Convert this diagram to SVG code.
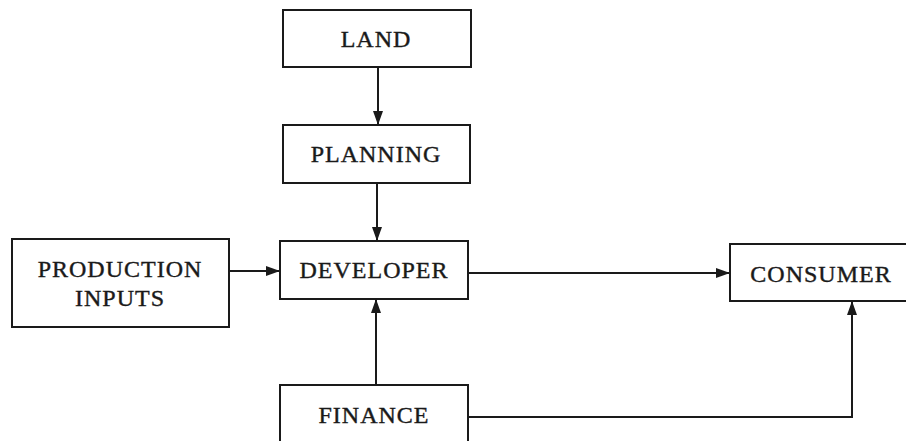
<svg xmlns="http://www.w3.org/2000/svg" width="906" height="441" viewBox="0 0 906 441">
  <style>
    .box { fill: #fff; stroke: #1a1a1a; stroke-width: 2; }
    .lbl { font-family: "Liberation Serif", "Times New Roman", serif; font-size: 24px; fill: #1a1a1a; stroke: #1a1a1a; stroke-width: 0.4; text-anchor: middle; letter-spacing: 1px; }
    .wire { fill: none; stroke: #1a1a1a; stroke-width: 2; }
  </style>
  <defs>
    <marker id="arrow" viewBox="0 0 14 10" refX="14" refY="5" markerWidth="14" markerHeight="10" markerUnits="userSpaceOnUse" orient="auto">
      <path d="M0,0 L14,5 L0,10 z" fill="#1a1a1a"/>
    </marker>
  </defs>
  <rect width="906" height="441" fill="#fff"/>

  <g id="land">
    <rect class="box" x="283" y="10" width="188" height="57"/>
    <text class="lbl" x="376" y="47">LAND</text>
  </g>
  <g id="planning">
    <rect class="box" x="283" y="125" width="187" height="58"/>
    <text class="lbl" x="376" y="162">PLANNING</text>
  </g>
  <g id="developer">
    <rect class="box" x="280" y="241" width="188" height="58"/>
    <text class="lbl" x="374" y="278">DEVELOPER</text>
  </g>
  <g id="production-inputs">
    <rect class="box" x="12" y="239" width="217" height="88"/>
    <text class="lbl" x="120" y="277">PRODUCTION</text>
    <text class="lbl" x="120" y="306">INPUTS</text>
  </g>
  <g id="finance">
    <rect class="box" x="280" y="385" width="188" height="60"/>
    <text class="lbl" x="374" y="423">FINANCE</text>
  </g>
  <g id="consumer">
    <rect class="box" x="730" y="244" width="180" height="57"/>
    <text class="lbl" x="821" y="282">CONSUMER</text>
  </g>

  <g id="connectors">
    <line class="wire" x1="378" y1="67" x2="378" y2="125" marker-end="url(#arrow)"/>
    <line class="wire" x1="377" y1="183" x2="377" y2="241" marker-end="url(#arrow)"/>
    <line class="wire" x1="229" y1="271" x2="280" y2="271" marker-end="url(#arrow)"/>
    <line class="wire" x1="376" y1="385" x2="376" y2="299" marker-end="url(#arrow)"/>
    <line class="wire" x1="468" y1="273" x2="730" y2="273" marker-end="url(#arrow)"/>
    <polyline class="wire" points="468,417 852,417 852,301" marker-end="url(#arrow)"/>
  </g>
</svg>
